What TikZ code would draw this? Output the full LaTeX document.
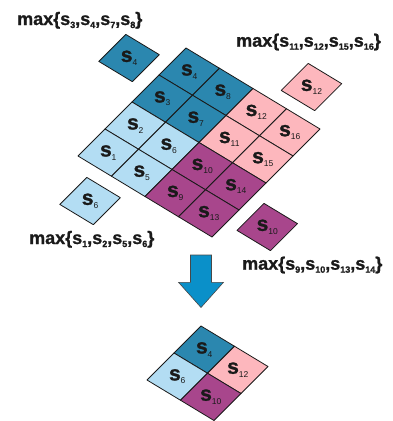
\documentclass[tikz,border=0pt]{standalone}
\usepackage{fontspec}
\setmainfont{Liberation Sans}
\newfontfamily\heavy{Liberation Sans Bold}[FakeBold=1.2]
\definecolor{dblue}{HTML}{2B87AF}
\definecolor{lblue}{HTML}{B3DDF3}
\definecolor{cpink}{HTML}{FDB7BD}
\definecolor{purp}{HTML}{A8468C}
\definecolor{arrowblue}{HTML}{0A90C9}
\definecolor{ink}{HTML}{1A1A1A}
\newcommand{\cellsub}[1]{{\fontsize{21}{21}\heavy s\raisebox{-3.5pt}{\fontsize{8.5}{8.5}\selectfont\normalfont #1}}}
\newcommand{\lsub}[1]{\raisebox{-3pt}{\fontsize{9}{9}\selectfont #1}}
\newcommand{\maxlab}[4]{{\fontsize{18}{18}\heavy max\{s\lsub{#1},s\lsub{#2},s\lsub{#3},s\lsub{#4}\}}}
\begin{document}
\begin{tikzpicture}[x=1pt,y=-1pt,
  cellbox/.style={draw=ink, line width=0.8pt, line join=round},
  celltext/.style={inner sep=0pt, text=ink},
  labtext/.style={inner sep=0pt, anchor=base west, text=ink}]
\useasboundingbox (0,0) rectangle (392,421);
% main 4x4 grid
\foreach \u in {0,...,3}{
  \foreach \v in {0,...,3}{
    \pgfmathtruncatemacro\idx{4*\u+4-\v}
    \ifnum\u<2 \ifnum\v<2 \def\col{dblue}\else\def\col{lblue}\fi\else\ifnum\v<2 \def\col{cpink}\else\def\col{purp}\fi\fi
    \coordinate (t\idx) at ({186+33.5*\u-27*\v},{48+20.25*\u+27*\v});
    \filldraw[cellbox, fill=\col] (t\idx) -- ++(33.5,20.25) -- ++(-27,27) -- ++(-33.5,-20.25) -- cycle;
    \node[celltext] (g\idx) at ({186+33.5*(\u+0.5)-27*(\v+0.5)},{48+20.25*(\u+0.5)+27*(\v+0.5)}) {\cellsub{\idx}};
  }
}
% isolated cells
\newcommand{\isocell}[5]{%
  \filldraw[cellbox, fill=#4] (#2,#3) -- ++(33.5,20.25) -- ++(-27,27) -- ++(-33.5,-20.25) -- cycle;
  \node[celltext] (#1) at ({#2+3.25},{#3+23.6}) {\cellsub{#5}};
}
\isocell{iso4}{125.8}{34.4}{dblue}{4}
\isocell{iso12}{308.2}{63.4}{cpink}{12}
\isocell{iso6}{86.8}{177.4}{lblue}{6}
\isocell{iso10}{264}{203.4}{purp}{10}
% labels
\node[labtext] (lab1) at (17,25) {\maxlab{3}{4}{7}{8}};
\node[labtext] (lab2) at (236,46.7) {\maxlab{11}{12}{15}{16}};
\node[labtext] (lab3) at (29,244) {\maxlab{1}{2}{5}{6}};
\node[labtext] (lab4) at (242,269.7) {\maxlab{9}{10}{13}{14}};
% arrow
\filldraw[fill=arrowblue, draw=ink!80, line width=0.6pt, line join=miter]
  (190.5,255) -- (211.5,255) -- (211.5,282.3) -- (223.5,282.3) -- (201,307.5)
  -- (178.5,282.3) -- (190.5,282.3) -- cycle;
% result 2x2 grid
\isocell{r4}{201}{326}{dblue}{4}
\isocell{r12}{234.5}{346.25}{cpink}{12}
\isocell{r6}{174}{353}{lblue}{6}
\isocell{r10}{207.5}{373.25}{purp}{10}
\end{tikzpicture}
\end{document}
